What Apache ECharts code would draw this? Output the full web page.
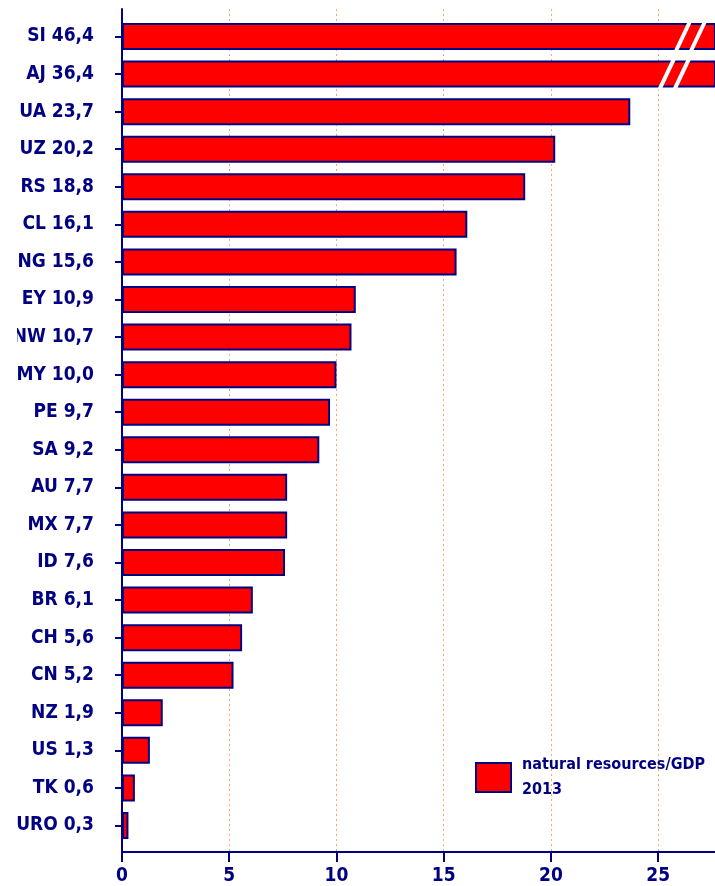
<!DOCTYPE html>
<html>
<head>
<meta charset="utf-8">
<script src="https://cdn.jsdelivr.net/npm/echarts@6/dist/echarts.min.js"></script>
<style>
  html, body { margin: 0; padding: 0; background: #fff; }
  #chart { width: 715px; height: 886px; }
</style>
</head>
<body>
<div id="chart"></div>
<script>
// Natural resources rent as a share of GDP, 2013 (%)
const countries = ['SI', 'AJ', 'UA', 'UZ', 'RS', 'CL', 'NG', 'EY', 'NW', 'MY', 'PE', 'SA',
                   'AU', 'MX', 'ID', 'BR', 'CH', 'CN', 'NZ', 'US', 'TK', 'URO'];
const shares = [46.4, 36.4, 23.7, 20.2, 18.8, 16.1, 15.6, 10.9, 10.7, 10.0, 9.7, 9.2,
                7.7, 7.7, 7.6, 6.1, 5.6, 5.2, 1.9, 1.3, 0.6, 0.3];
const xTicks = [0, 5, 10, 15, 20, 25];
const seriesName = 'natural resources/GDP\n2013';
// bars running past the axis end get a pair of break slashes (axis value of each slash)
const breakMarks = [
  { country: 'SI', at: [26.15, 26.85] },
  { country: 'AJ', at: [25.4, 26.1] }
];

const NAVY = '#000080';
const RED = '#FF0000';
const FONT = 'DejaVu Sans Condensed';
const AXIS_MAX = 27.65;

const catLabels = countries.map((c, i) => c + ' ' + shares[i].toFixed(1).replace('.', ','));
const breakData = [];
breakMarks.forEach(b => {
  const idx = countries.indexOf(b.country);
  b.at.forEach(v => breakData.push([v, idx]));
});

const chart = echarts.init(document.getElementById('chart'), null, { renderer: 'canvas' });

chart.setOption({
  animation: false,
  backgroundColor: '#fff',
  grid: [
    // bar area: category bands
    { left: 122, right: 0, top: 17.7, bottom: 41.7, containLabel: false },
    // frame: axes, ticks and grid lines
    { left: 122, right: 0, top: 9, bottom: 34, containLabel: false }
  ],
  xAxis: [
    {
      gridIndex: 0, type: 'value', min: 0, max: AXIS_MAX,
      show: false
    },
    {
      gridIndex: 1, type: 'value', min: 0, max: AXIS_MAX, interval: 5,
      axisLine: { show: true, lineStyle: { color: NAVY, width: 2 } },
      axisTick: { show: true, length: 10, lineStyle: { color: NAVY, width: 2 } },
      axisLabel: {
        color: NAVY, fontFamily: FONT, fontWeight: 'bold', fontSize: 19, margin: 15,
        showMaxLabel: false,
        formatter: v => (xTicks.indexOf(v) >= 0 ? String(v) : '')
      },
      splitLine: { show: true, lineStyle: { color: '#F5A46C', width: 1, type: [2, 3] } }
    }
  ],
  yAxis: [
    {
      gridIndex: 0, type: 'category', inverse: true, data: catLabels,
      axisLine: { show: false },
      axisTick: { show: true, alignWithLabel: true, length: 7, lineStyle: { color: NAVY, width: 2 } },
      axisLabel: { color: NAVY, fontFamily: FONT, fontWeight: 'bold', fontSize: 19, margin: 28 },
      splitLine: { show: false }
    },
    {
      gridIndex: 1, type: 'value', min: 0, max: 1,
      axisLine: { show: true, lineStyle: { color: NAVY, width: 2 } },
      axisTick: { show: false },
      axisLabel: { show: false },
      splitLine: { show: false }
    }
  ],
  legend: {
    left: 475, top: 744.5,
    padding: 0,
    itemWidth: 35, itemHeight: 29,
    icon: 'rect',
    selectedMode: false,
    data: [seriesName],
    textStyle: {
      color: NAVY, fontFamily: FONT, fontWeight: 'bold', fontSize: 16,
      lineHeight: 25, padding: [16, 0, 0, 6]
    }
  },
  series: [
    {
      name: seriesName,
      type: 'bar',
      xAxisIndex: 0, yAxisIndex: 0,
      data: shares,
      barWidth: 27,
      clip: true,
      itemStyle: { color: RED, borderColor: NAVY, borderWidth: 2 }
    },
    {
      type: 'custom',
      xAxisIndex: 0, yAxisIndex: 0,
      data: breakData,
      clip: true,
      silent: true,
      z: 5,
      renderItem: (params, api) => {
        const p = api.coord([api.value(0), api.value(1)]);
        return {
          type: 'line',
          shape: { x1: p[0] + 7.6, y1: p[1] - 16, x2: p[0] - 7.6, y2: p[1] + 16 },
          style: { stroke: '#fff', lineWidth: 4 }
        };
      }
    }
  ],
  graphic: [
    // left margin strip that trims the widest labels
    { type: 'rect', left: 0, top: 0, z: 100, shape: { width: 17, height: 886 }, style: { fill: '#fff' } }
  ]
});
</script>
</body>
</html>
